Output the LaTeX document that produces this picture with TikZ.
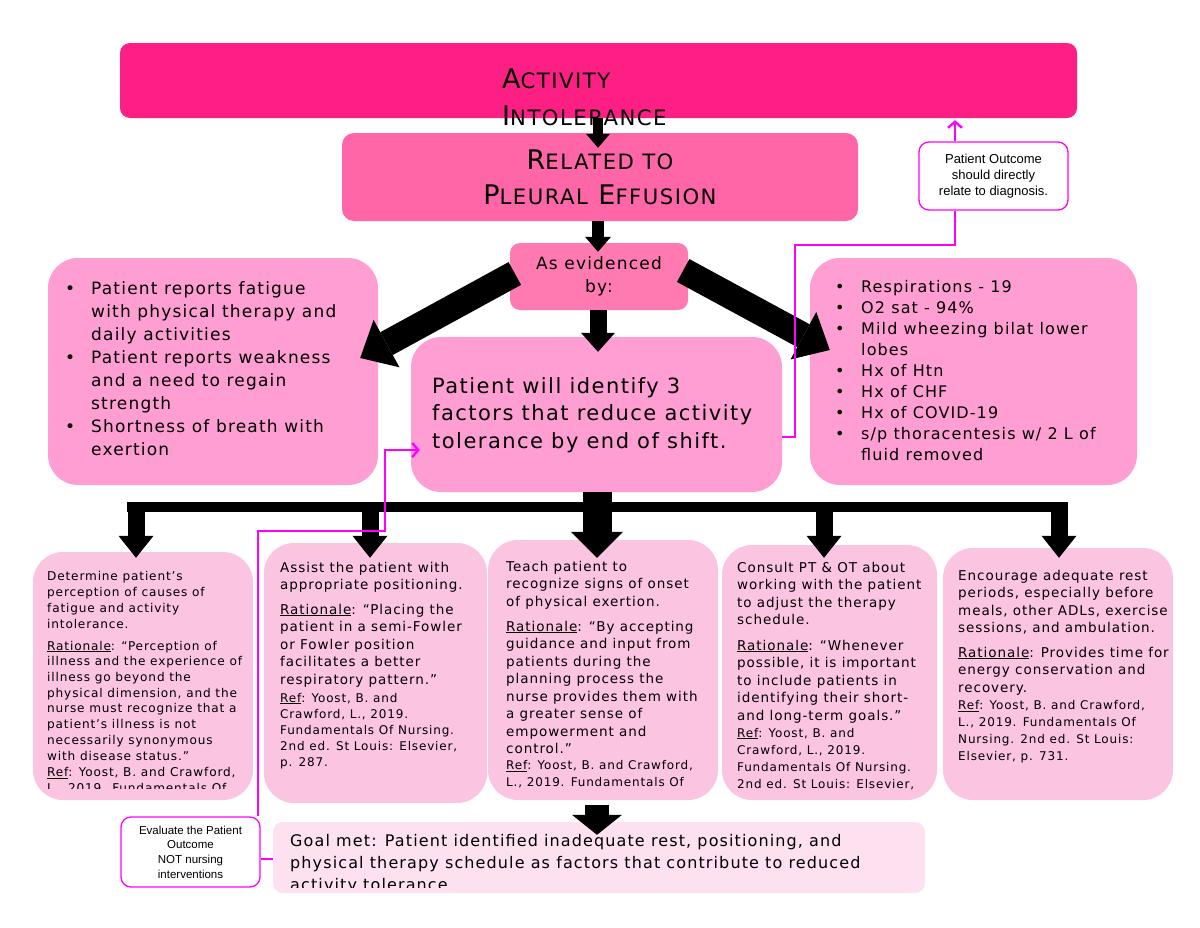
\documentclass[tikz,border=0pt]{standalone}
\usepackage{fontspec}
\setmainfont[LetterSpace=7]{DejaVu Sans}
\newfontfamily\calloutfont{Liberation Sans}
\usetikzlibrary{arrows.meta,positioning}
\definecolor{titlepink}{RGB}{253,31,131}
\definecolor{relpink}{RGB}{255,102,168}
\definecolor{evidpink}{RGB}{255,122,176}
\definecolor{midpink}{RGB}{255,158,211}
\definecolor{lowpink}{RGB}{251,196,225}
\definecolor{goalpink}{RGB}{253,225,241}
\definecolor{guide}{RGB}{255,0,255}
\newcommand\smallcap[2]{#1{\fontsize{21.2}{37}\selectfont #2}}
\newcommand\bitem{\makebox[26pt][l]{\textbullet}}
\newcommand\bcont{\hspace*{26pt}}
% text nodes are anchored at the baseline of their last line
\tikzset{
  box/.style={rounded corners=#1, inner sep=0pt},
  box/.default=12pt,
  txt/.style={anchor=base west, align=left, inner sep=0pt,
    font=\fontsize{13.5}{17.5}\selectfont},
  reftxt/.style={txt, font=\fontsize{12}{16.2}\selectfont},
  callout/.style={box=10pt, draw=guide, line width=1.3pt, fill=white,
    align=center, font=\calloutfont},
  guideline/.style={draw=guide, line width=2.4pt},
  guidetip/.style={guideline, -{Straight Barb[length=6pt, width=14pt]}},
  thinarrow/.style={line width=10pt,
    -{Triangle[width=24pt, length=14pt, line width=0pt]}},
  relarrow/.style={line width=12pt,
    -{Triangle[width=26pt, length=15pt, line width=0pt]}},
  midarrow/.style={line width=17pt,
    -{Triangle[width=34pt, length=19pt, line width=0pt]}},
  fatarrow/.style={line width=26pt,
    -{Triangle[width=54pt, length=30pt, line width=0pt]}},
  branch/.style={line width=17pt,
    -{Triangle[width=35pt, length=22pt, line width=0pt]}},
  bigdown/.style={line width=29pt,
    -{Triangle[width=52pt, length=26pt, line width=0pt]}},
}
\begin{document}
\begin{tikzpicture}[x=1pt, y=-1pt]
  \useasboundingbox[fill=white] (0,0) rectangle (1200,927);
  % Diagnosis, cause and evidence boxes.
  \node[box=10pt, fill=titlepink, minimum width=957pt, minimum height=75pt]
    (title) at (598.5,80.5) {};
  \node[txt, font=\fontsize{27}{37}\selectfont] (title-txt) at (502,125)
    {\smallcap{A}{CTIVITY}\\\smallcap{I}{NTOLERANCE}};
  \node[box, fill=relpink, minimum width=516pt, minimum height=88pt,
    align=center, font=\fontsize{27}{35}\selectfont] (related) at (600,177)
    {\smallcap{R}{ELATED TO}\\\smallcap{P}{LEURAL} \smallcap{E}{FFUSION}};
  \node[box=10pt, fill=evidpink, minimum width=178pt, minimum height=67pt,
    align=center, font=\fontsize{17}{23}\selectfont] (evid) at (599,276.5)
    {As evidenced\\by:};
  % Subjective data, goal and objective data.
  \node[box=30pt, fill=midpink, minimum width=330pt, minimum height=227pt]
    (subj) at (213,371.5) {};
  \node[txt, font=\fontsize{17}{23}\selectfont] (subj-txt) at (65,455)
    {\bitem Patient reports fatigue\\\bcont with physical therapy and\\
     \bcont daily activities\\\bitem Patient reports weakness\\
     \bcont and a need to regain\\\bcont strength\\
     \bitem Shortness of breath with\\\bcont exertion};
  \node[box=30pt, fill=midpink, minimum width=371pt, minimum height=155pt]
    (goal) at (596.5,414.5) {};
  \node[txt, font=\fontsize{21}{27.5}\selectfont] (goal-txt) at (432,448)
    {Patient will identify 3\\factors that reduce activity\\
     tolerance by end of shift.};
  \node[box=30pt, fill=midpink, minimum width=327pt, minimum height=227pt]
    (obj) at (973.5,371.5) {};
  \node[txt, font=\fontsize{16}{21}\selectfont] (obj-txt) at (835,460)
    {\bitem Respirations - 19\\\bitem O2 sat - 94\%\\
     \bitem Mild wheezing bilat lower\\\bcont lobes\\\bitem Hx of Htn\\
     \bitem Hx of CHF\\\bitem Hx of COVID-19\\
     \bitem s/p thoracentesis w/ 2 L of\\\bcont fluid removed};
  % Nursing interventions.
  \node[box=30pt, fill=lowpink, minimum width=220pt, minimum height=248pt]
    (int1) at (143,676) {};
  \node[box=30pt, fill=lowpink, minimum width=223pt, minimum height=260pt]
    (int2) at (375.5,673) {};
  \node[box=30pt, fill=lowpink, minimum width=230pt, minimum height=260pt]
    (int3) at (603,670) {};
  \node[box=30pt, fill=lowpink, minimum width=215pt, minimum height=255pt]
    (int4) at (829.5,672.5) {};
  \node[box=30pt, fill=lowpink, minimum width=230pt, minimum height=252pt]
    (int5) at (1058,674) {};
  \begin{scope}
    \clip (33,552) rectangle (253,788);
    \node[txt, font=\fontsize{12.1}{15.7}\selectfont] (int1-task) at (47,628)
      {Determine patient's\\perception of causes of\\fatigue and activity\\
       intolerance.};
    \node[txt, font=\fontsize{12.1}{15.7}\selectfont] (int1-rat) at (47,760)
      {\underline{Rationale}: “Perception of\\illness and the experience of\\
       illness go beyond the\\physical dimension, and the\\
       nurse must recognize that a\\patient's illness is not\\
       necessarily synonymous\\with disease status.”};
    \node[txt, font=\fontsize{12.1}{15.7}\selectfont] (int1-ref) at (47,792)
      {\underline{Ref}: Yoost, B. and Crawford,\\L., 2019. Fundamentals Of};
  \end{scope}
  \node[txt] (int2-task) at (280,589.5)
    {Assist the patient with\\appropriate positioning.};
  \node[txt] (int2-rat) at (280,684)
    {\underline{Rationale}: “Placing the\\patient in a semi-Fowler\\
     or Fowler position\\facilitates a better\\respiratory pattern.”};
  \node[reftxt] (int2-ref) at (280,766.8)
    {\underline{Ref}: Yoost, B. and\\Crawford, L., 2019.\\
     Fundamentals Of Nursing.\\2nd ed. St Louis: Elsevier,\\p. 287.};
  \begin{scope}
    \clip (488,540) rectangle (718,794);
    \node[txt] (int3-task) at (506,606)
      {Teach patient to\\recognize signs of onset\\of physical exertion.};
    \node[txt] (int3-rat) at (506,753.5)
      {\underline{Rationale}: “By accepting\\guidance and input from\\
       patients during the\\planning process the\\
       nurse provides them with\\a greater sense of\\
       empowerment and\\control.”};
    \node[reftxt] (int3-ref) at (506,786)
      {\underline{Ref}: Yoost, B. and Crawford,\\L., 2019. Fundamentals Of};
  \end{scope}
  \node[txt] (int4-task) at (737,624.5)
    {Consult PT \& OT about\\working with the patient\\
     to adjust the therapy\\schedule.};
  \node[txt] (int4-rat) at (737,720)
    {\underline{Rationale}: “Whenever\\possible, it is important\\
     to include patients in\\identifying their short-\\
     and long-term goals.”};
  \node[reftxt, font=\fontsize{12}{17}\selectfont] (int4-ref) at (737,788)
    {\underline{Ref}: Yoost, B. and\\Crawford, L., 2019.\\
     Fundamentals Of Nursing.\\2nd ed. St Louis: Elsevier,};
  \node[txt] (int5-task) at (958,632.5)
    {Encourage adequate rest\\periods, especially before\\
     meals, other ADLs, exercise\\sessions, and ambulation.};
  \node[txt] (int5-rat) at (958,692)
    {\underline{Rationale}: Provides time for\\energy conservation and\\
     recovery.};
  \node[reftxt, font=\fontsize{12}{16.7}\selectfont] (int5-ref) at (958,760)
    {\underline{Ref}: Yoost, B. and Crawford,\\L., 2019. Fundamentals Of\\
     Nursing. 2nd ed. St Louis:\\Elsevier, p. 731.};
  % Evaluation.
  \node[box=10pt, fill=goalpink, minimum width=652pt, minimum height=71pt]
    (eval) at (599,857.5) {};
  \begin{scope}
    \clip (273,822) rectangle (925,887);
    \node[txt, font=\fontsize{16}{22}\selectfont] (eval-txt) at (290,890)
      {Goal met: Patient identified inadequate rest, positioning, and\\
       physical therapy schedule as factors that contribute to reduced\\
       activity tolerance.};
  \end{scope}
  % Comments for the reader.
  \node[callout, minimum width=149pt, minimum height=68pt,
    font=\calloutfont\fontsize{13}{16}\selectfont] (note-dx) at (993.5,176)
    {Patient Outcome\\should directly\\relate to diagnosis.};
  \node[callout, minimum width=139pt, minimum height=70pt,
    font=\calloutfont\fontsize{11.5}{14.7}\selectfont] (note-eval)
    at (190.5,852) {Evaluate the Patient\\Outcome\\NOT nursing\\interventions};
  % Black flow arrows.
  \draw[thinarrow] (title.south -| 598,0) -- ([yshift=-15pt]related.north -| 598,0);
  \draw[relarrow] (related.south -| 598,0) -- ([yshift=-9pt]evid.north -| 598,0);
  \draw[fatarrow] ([xshift=5pt, yshift=3pt]evid.west)
    -- ([xshift=-18pt, yshift=13.5pt]subj.east);
  \draw[fatarrow] ([xshift=-5pt, yshift=6pt]evid.east)
    -- ([xshift=20pt, yshift=21.5pt]obj.west);
  \draw[midarrow] (evid.south -| 598,0) -- ([yshift=-15pt]goal.north -| 598,0);
  \draw[bigdown] (goal.south -| 597,0) -- ([yshift=-18pt]int3.north -| 597,0);
  \coordinate (bar-w) at (127,507);
  \coordinate (bar-e) at (1068,507);
  \draw[line width=10pt] (bar-w) -- (bar-e);
  \draw[branch] (136,502) -- ([yshift=-6pt]int1.north -| 136,0);
  \draw[branch] (370,502) -- ([yshift=-15pt]int2.north -| 370,0);
  \draw[branch] (824,502) -- ([yshift=-13pt]int4.north -| 824,0);
  \draw[branch] (1059,502) -- ([yshift=-10pt]int5.north -| 1059,0);
  \draw[line width=24pt, -{Triangle[width=50pt, length=20pt, line width=0pt]}]
    ([yshift=-5pt]int3.south -| 597,0) -- ([yshift=-13pt]eval.north -| 597,0);
  % Magenta guide lines.
  \draw[guideline] (goal.east |- 0,437) -- (795,437) -- (795,245) -- (955,245)
    -- (note-dx.south -| 955,0);
  \draw[guidetip] (note-dx.north -| 955,0) -- ([yshift=-2pt]title.south -| 955,0);
  \draw[guidetip] (note-eval.north -| 258,0) -- (258,531) -- (385,531)
    -- (385,450) -- ([xshift=9pt]goal.west |- 0,450);
  \draw[guideline] (note-eval.east |- 0,859) -- (eval.west |- 0,859);
\end{tikzpicture}
\end{document}
